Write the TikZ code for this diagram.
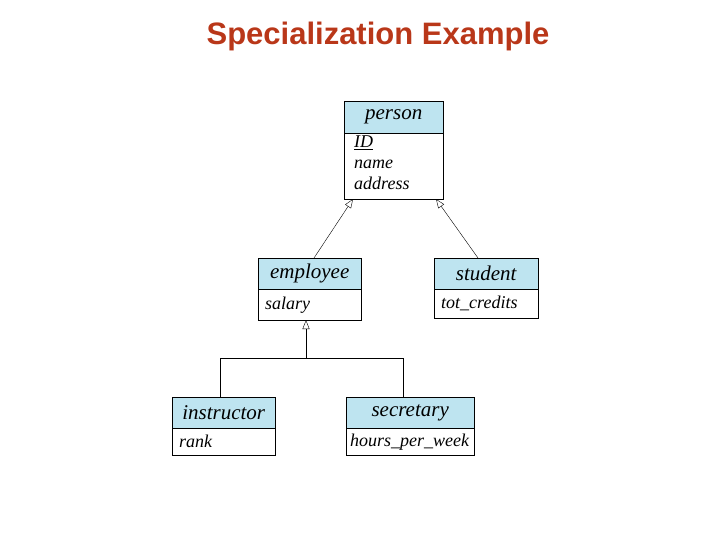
\documentclass[tikz,border=0pt]{standalone}
\usepackage{fontspec}
\setmainfont{Liberation Serif}
\newfontfamily\titlefont{Liberation Sans}
\usetikzlibrary{arrows.meta}
\definecolor{hdrblue}{RGB}{190,228,240}
\definecolor{titlered}{RGB}{185,55,25}

\begin{document}
\begin{tikzpicture}[x=1pt,y=-1pt,
  hdr/.style={draw,fill=hdrblue,anchor=north west,inner sep=0pt,font=\fontsize{21}{22}\selectfont\itshape},
  attr/.style={draw,fill=white,anchor=north west,inner sep=0pt,align=left,font=\fontsize{18}{20}\selectfont\itshape},
  isa/.style={-{Triangle[open,length=9pt,width=7pt]}}]

\useasboundingbox (0,0) rectangle (720,540);

\node[font=\titlefont\bfseries\fontsize{31}{34}\selectfont,text=titlered] (title) at (378,36) {Specialization Example};

% person
\node[hdr,minimum width=99pt,minimum height=32pt] (personH) at (344,101) {person};
\node[attr,minimum width=99pt,minimum height=66pt] (personB) at (344,133) {};
\node[anchor=north west,align=left,font=\fontsize{18}{21}\selectfont\itshape,inner sep=0pt] (personT) at (354,136) {\underline{ID}\\name\\address};

% employee, student
\node[hdr,minimum width=103pt,minimum height=31pt] (employeeH) at (258,258) {employee};
\node[attr,minimum width=103pt,minimum height=31pt,text width=97pt] (employeeB) at (258,289) {\hspace*{4pt}salary};
\node[hdr,minimum width=104pt,minimum height=31pt] (studentH) at (434,258) {student};
\node[attr,minimum width=104pt,minimum height=29pt,text width=98pt] (studentB) at (434,289) {\hspace*{4pt}tot\_credits};

% instructor, secretary
\node[hdr,minimum width=103pt,minimum height=31pt] (instructorH) at (172,397) {instructor};
\node[attr,minimum width=103pt,minimum height=27pt,text width=97pt] (instructorB) at (172,428) {\hspace*{4pt}rank};
\node[hdr,minimum width=128pt,minimum height=31pt] (secretaryH) at (346,397) {secretary};
\node[attr,minimum width=128pt,minimum height=27pt,text width=124pt] (secretaryB) at (346,428) {\hspace*{2pt}hours\_per\_week};

\coordinate (join) at (306,358);
\coordinate (instrTop) at (220,397);
\coordinate (secrTop) at (403,397);

\draw[isa] (314,258) -- (353,199);
\draw[isa] (478,258) -- (436,199);
\draw[isa] (join) -- (306,320);
\draw (instrTop) -- (220,358) -- (403,358) -- (secrTop);

\end{tikzpicture}
\end{document}
